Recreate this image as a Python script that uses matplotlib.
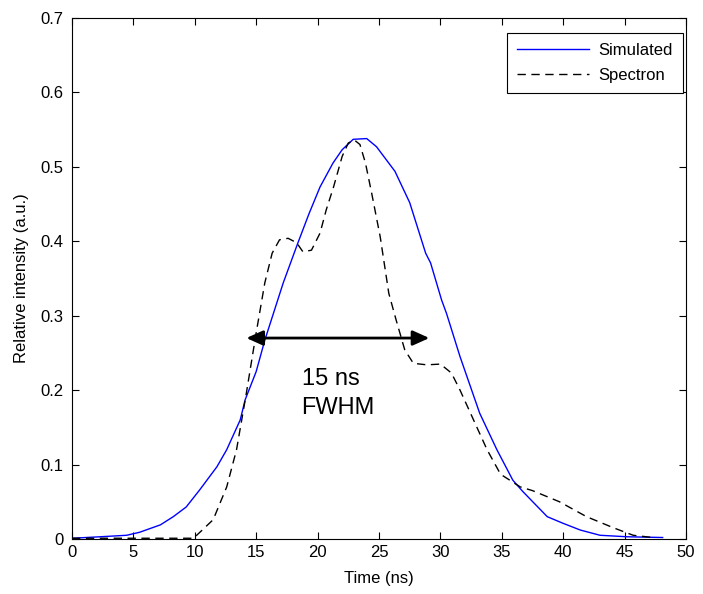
import numpy as np
import matplotlib.pyplot as plt

plt.rcParams['font.family'] = ['Liberation Sans', 'DejaVu Sans']

# Simulated pulse (blue line)
sim_t = [0, 2.3, 4.45, 5.5, 7.2, 8.25, 9.3, 10.4, 11.8, 12.6, 13.7, 14.1, 15.0, 15.7,
         17.2, 18.4, 19.3, 20.2, 21.25, 22.0, 22.9, 24.0, 24.8, 26.3, 27.5, 28.8,
         29.2, 30.1, 30.5, 31.6, 33.2, 34.6, 35.9, 36.7, 38.7, 40.0, 41.4, 43.0,
         45.2, 48.1]
sim_i = [0.001, 0.003, 0.005, 0.009, 0.019, 0.030, 0.043, 0.066, 0.097, 0.120, 0.160,
         0.187, 0.225, 0.267, 0.344, 0.398, 0.437, 0.473, 0.505, 0.523, 0.537, 0.538,
         0.527, 0.494, 0.452, 0.384, 0.371, 0.321, 0.303, 0.245, 0.169, 0.120, 0.079,
         0.064, 0.030, 0.021, 0.012, 0.005, 0.003, 0.002]

# Spectron measurement (dashed line)
spec_t = [0, 5, 9.9, 11.5, 12.6, 13.4, 14.2, 15.0, 15.7, 16.3, 16.9, 17.6, 18.3, 18.8,
          19.5, 20.2, 20.7, 21.3, 22.0, 22.5, 23.0, 23.45, 23.9, 24.4, 25.1, 25.8,
          26.4, 27.1, 27.8, 28.9, 30.0, 30.9, 31.6, 32.7, 33.8, 34.9, 36.5, 37.5,
          39.7, 41.9, 44.1, 45.7, 47.3]
spec_i = [0.001, 0.001, 0.001, 0.026, 0.070, 0.120, 0.196, 0.277, 0.344, 0.384, 0.402,
          0.404, 0.398, 0.386, 0.388, 0.411, 0.442, 0.473, 0.514, 0.532, 0.536, 0.530,
          0.505, 0.465, 0.406, 0.330, 0.294, 0.254, 0.236, 0.234, 0.235, 0.223, 0.200,
          0.160, 0.120, 0.087, 0.070, 0.065, 0.050, 0.030, 0.015, 0.005, 0.002]

fwhm_start, fwhm_end, fwhm_level = 14.2, 29.1, 0.27

fig = plt.figure(figsize=(7.03, 5.94), dpi=100)
ax = fig.add_axes([0.1024, 0.0926, 0.8734, 0.8771])

ax.plot(sim_t, sim_i, color='blue', linewidth=1, label='Simulated')
ax.plot(spec_t, spec_i, color='black', linewidth=1, linestyle=(0, (6, 4)), label='Spectron')

# FWHM arrow + note
ax.annotate('', xy=(fwhm_end, fwhm_level), xytext=(fwhm_start, fwhm_level),
            arrowprops=dict(arrowstyle='<|-|>,head_length=1.0,head_width=0.45',
                            color='black', lw=2, shrinkA=0, shrinkB=0))
ax.text(18.7, 0.207, '15 ns', fontsize=17, ha='left', va='baseline')
ax.text(18.7, 0.168, 'FWHM', fontsize=17, ha='left', va='baseline')

ax.set_xlim(0, 50)
ax.set_ylim(0, 0.7)
ax.set_xticks(np.arange(0, 51, 5))
ax.set_yticks(np.arange(0, 0.71, 0.1))
ax.set_yticklabels(['0', '0.1', '0.2', '0.3', '0.4', '0.5', '0.6', '0.7'])
ax.tick_params(direction='in', top=True, right=True, labelsize=12, length=5)
ax.tick_params(axis='y', pad=6)
ax.tick_params(axis='x', pad=4)
ax.set_xlabel('Time (ns)', fontsize=12, labelpad=8)
ax.set_ylabel('Relative intensity (a.u.)', fontsize=12, labelpad=8)

leg = ax.legend(loc='upper right', bbox_to_anchor=(0.995, 0.971), borderaxespad=0,
                fontsize=12, fancybox=False, framealpha=1, edgecolor='black',
                handlelength=4.3, borderpad=0.6, labelspacing=0.6, handletextpad=0.6)
leg.get_frame().set_linewidth(0.8)

fig.savefig('out.png', dpi=100)
